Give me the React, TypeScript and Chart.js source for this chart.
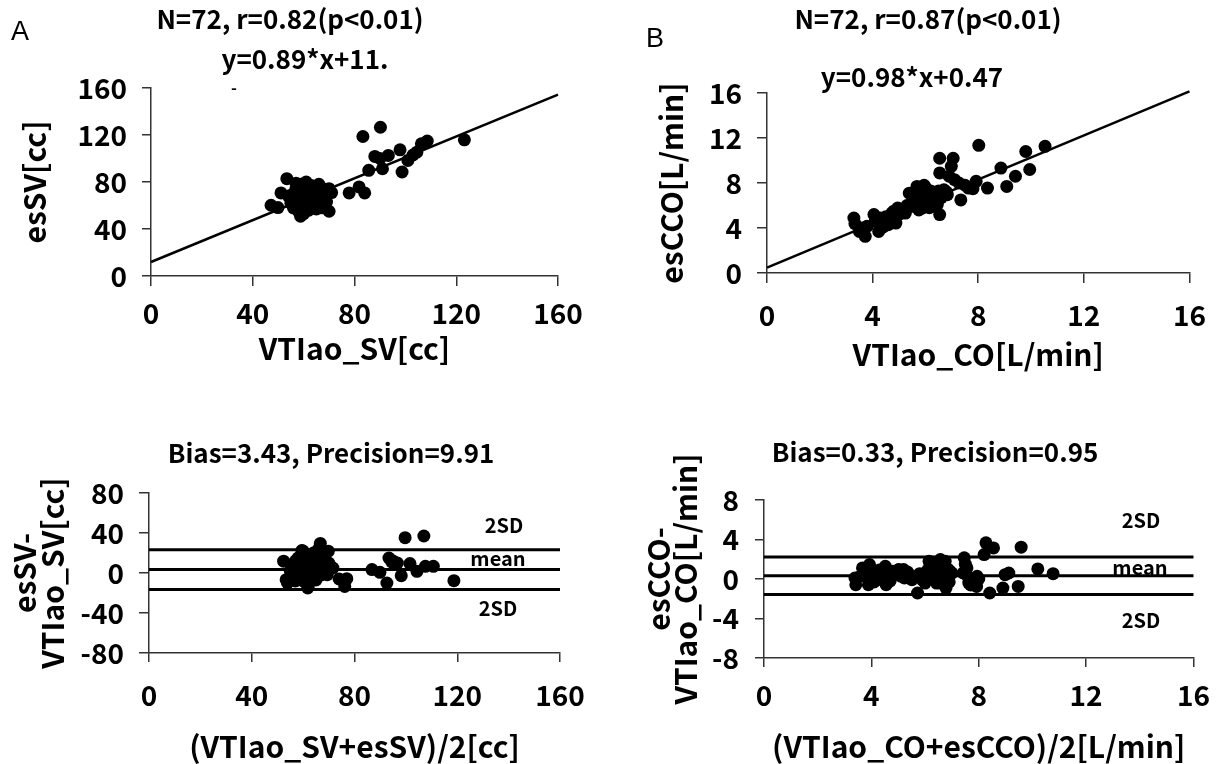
import React, { useEffect, useRef } from "react";
import { Chart, registerables } from "chart.js";

Chart.register(...registerables);

const FONT = '"Noto Sans CJK JP", "Liberation Sans", sans-serif';

// ---------- Panel A: esSV vs VTIao_SV ----------
const aX = [53.4, 51.1, 47.2, 49.9, 58.8, 70, 70, 71, 77.9, 81.8, 84, 83.3, 90.2, 85.6, 88, 91, 93.3, 97.9, 98.7, 101, 104.5, 106.3, 108.6, 123.2, 103, 90,
  55, 55, 56, 56, 57, 57, 58, 58, 58, 59, 59, 60, 60, 60, 60, 60, 61, 61, 61, 62, 62, 62, 62, 63, 63, 63, 64, 64, 64, 65, 65, 65, 66, 66, 67, 67, 68, 68, 69, 66, 54, 57, 63, 59, 61, 64];
const aY = [82.8, 70.7, 60.2, 58.2, 50.9, 55.1, 74.3, 71, 70.7, 75.8, 70.7, 118.7, 126.6, 89.9, 101.8, 91.3, 102.6, 107.4, 88.5, 98.4, 105.4, 112.5, 114.8, 115.9, 103, 100,
  62, 66, 58, 70, 64, 74, 55, 60, 68, 72, 78, 53, 58, 63, 66, 70, 61, 75, 80, 56, 65, 68, 72, 59, 63, 77, 66, 70, 60, 57, 64, 73, 68, 62, 75, 58, 66, 70, 63, 78, 68, 79, 68, 66, 69, 74];
const aSlope = 0.89;
const aIntercept = 11.9;
const aXTicks = [0, 40, 80, 120, 160];
const aYTicks = [0, 40, 80, 120, 160];

// ---------- Panel B: esCCO vs VTIao_CO ----------
const bX = [3.29, 3.33, 3.5, 3.72, 3.79, 4.05, 4.23, 4.37, 4.59, 4.73, 4.88, 4.95, 5.24, 5.39, 5.53, 5.68, 5.82, 5.89, 6.04, 6.14, 6.25, 6.54, 6.54, 6.54, 6.83, 6.98, 7.05, 6.9, 7.27, 7.34, 7.63, 7.92, 8.02, 7.8, 8.35, 8.86, 9.08, 9.41, 9.8, 9.95, 10.53,
  4.1, 4.3, 4.5, 4.6, 4.8, 5.0, 5.1, 5.3, 5.5, 5.6, 5.7, 5.8, 5.9, 6.0, 6.0, 6.1, 6.2, 6.3, 6.4, 6.5, 6.6, 6.7, 6.8, 5.75, 6.15, 4.4, 3.6, 6.45, 7.1, 7.5, 5.95];
const bY = [4.89, 4.39, 3.7, 3.26, 4.15, 5.19, 3.7, 4.59, 4.3, 5.33, 4.44, 5.78, 5.33, 7.1, 5.93, 7.7, 6.5, 5.78, 7.1, 6.2, 6.8, 5.19, 10.2, 8.9, 6.96, 9.48, 10.2, 8.6, 8.0, 6.5, 7.55, 8.15, 11.35, 7.5, 7.55, 9.33, 7.7, 8.6, 10.8, 9.2, 11.26,
  4.6, 4.9, 5.0, 4.7, 5.5, 5.2, 5.6, 6.0, 6.3, 6.8, 7.3, 7.0, 6.2, 6.6, 7.6, 6.9, 7.3, 6.4, 7.0, 7.3, 6.7, 7.4, 7.2, 5.6, 5.8, 4.1, 4.0, 6.1, 8.3, 7.8, 7.8];
const bSlope = 0.98;
const bIntercept = 0.47;
const bXTicks = [0, 4, 8, 12, 16];
const bYTicks = [0, 4, 8, 12, 16];

// ---------- Panel C: Bland-Altman SV ----------
const cX = [52.4, 53.4, 53.9, 59.5, 61.8, 66.7, 69.8, 71.6, 69.4, 74, 76.2, 77, 86.8, 89.9, 92.6, 93.4, 96.7, 98.2, 99.7, 101.6, 104.3, 107, 107.6, 110.7, 118.7, 95, 94.5,
  55, 55, 56, 56, 57, 57, 58, 58, 58, 59, 59, 60, 60, 60, 61, 61, 61, 62, 62, 62, 63, 63, 63, 64, 64, 64, 65, 65, 65, 66, 66, 67, 67, 68, 68, 69, 70, 62, 60, 57, 66, 64, 59, 61, 68];
const cY = [11.8, -6.7, -10, 22.5, -15, 29.6, 21.8, 5, -1.7, -6, -13.4, -5.7, 3.4, 0.7, -10, 15, 10, -2.7, 35.3, 9.4, 1.7, 37, 6.7, 6.7, -7.7, 12, 11,
  2, -4, 8, -2, 5, 12, -6, 0, 15, 3, 9, -8, 1, 18, 6, -3, 12, -10, 2, 8, 14, -5, 4, 10, -1, 20, 6, -7, 15, 2, 10, 18, -2, 8, 13, 4, 10, -13, 22, -8, 24, 16, -2, 19, 0];
const cBias = 3.43;
const cUpper = 23.25;
const cLower = -16.39;
const cXTicks = [0, 40, 80, 120, 160];
const cYTicks = [-80, -40, 0, 40, 80];

// ---------- Panel D: Bland-Altman CO ----------
const dX = [3.39, 3.42, 3.67, 3.93, 3.89, 4.17, 4.38, 4.52, 4.55, 4.8, 5.02, 5.2, 5.23, 5.51, 5.72, 5.8, 6.0, 6.15, 6.29, 6.43, 6.57, 6.64, 6.78, 6.93, 7.46, 7.56, 7.42, 7.63, 7.94, 7.92, 8.2, 8.27, 8.55, 8.41, 8.9, 8.98, 9.12, 9.47, 9.58, 10.2, 10.77,
  3.6, 3.8, 4.0, 4.1, 4.3, 4.6, 4.7, 4.9, 5.1, 5.35, 5.6, 5.9, 6.1, 6.2, 6.35, 6.45, 6.5, 6.6, 6.7, 6.85, 6.9, 7.0, 6.55, 7.5, 7.6, 7.7, 8.0, 6.3, 6.75, 5.0, 4.45];
const dY = [0.1, -0.58, 1.12, 1.46, -0.58, 0.44, -0.07, 1.29, -0.58, 0.78, 0.95, 0.95, 0.1, -0.07, -1.42, 0.54, -0.41, 1.8, 1.12, -0.41, 1.97, 0.61, -0.92, 0.78, 2.14, 1.12, 0.61, -0.41, 0.27, -0.75, 2.47, 3.66, 3.15, -1.42, -0.92, 0.44, 0.61, -0.75, 3.22, 1.02, 0.54,
  0.3, 0.8, 0.2, -0.3, 0.9, 0.4, -0.2, 0.6, 0.3, 0.7, 0.2, -0.1, 0.9, 0.3, 1.5, 0.8, 0.1, 1.3, 0.4, 1.0, -0.3, 0.6, -0.4, 1.5, 0.2, -0.6, 0.0, 1.7, 1.8, 0.9, 1.0];
const dBias = 0.33;
const dUpper = 2.23;
const dLower = -1.57;
const dXTicks = [0, 4, 8, 12, 16];
const dYTicks = [-8, -4, 0, 4, 8];

// ---------- texts ----------
const titleA = "N=72, r=0.82(p<0.01)";
const eqA = "y=0.89*x+11.";
const titleB = "N=72, r=0.87(p<0.01)";
const eqB = "y=0.98*x+0.47";
const titleC = "Bias=3.43, Precision=9.91";
const titleD = "Bias=0.33, Precision=0.95";

type TextItem = { text: string; x: number; y: number; font: string; align?: CanvasTextAlign };

const panelTextPlugin = {
  id: "panelText",
  afterDraw(chart: any, _args: any, opts: any) {
    const ctx = chart.ctx as CanvasRenderingContext2D;
    const items: TextItem[] = opts.items || [];
    items.forEach((it) => {
      ctx.save();
      ctx.font = it.font;
      ctx.fillStyle = "#000";
      ctx.textAlign = it.align || "center";
      ctx.textBaseline = "middle";
      ctx.fillText(it.text, it.x, it.y);
      ctx.restore();
    });
  },
};

const bold = (s: number) => `bold ${s}px ${FONT}`;

type PanelCfg = {
  left: number; top: number; width: number; height: number;
  pad: { top: number; right: number };
  yWidth: number; xHeight: number;
  xMin: number; xMax: number; xStep: number;
  yMin: number; yMax: number; yStep: number;
  xTickLen: number; xTickPad: number;
  yTickLen: number; yTickPad: number;
  xTitle: string; xTitlePad: number;
  yTitle: string | string[]; yTitlePad: number; yTitleLH: number;
  points: { x: number; y: number }[];
  lines: { x: number; y: number }[][];
  lineWidth: number;
  texts: TextItem[];
};

function zip(xs: number[], ys: number[]) {
  return xs.map((x, i) => ({ x, y: ys[i] }));
}

function fit(slope: number, icpt: number, xs: number[]) {
  return [xs[0], xs[xs.length - 1]].map((x) => ({ x, y: slope * x + icpt }));
}

function hline(v: number, xs: number[]) {
  return [xs[0], xs[xs.length - 1]].map((x) => ({ x, y: v }));
}

const AXIS = "#333";
const TICK_SIZE = 28;
const TITLE_SIZE = 30;

function Panel({ cfg }: { cfg: PanelCfg }) {
  const ref = useRef<HTMLCanvasElement>(null);
  useEffect(() => {
    if (!ref.current) return;
    const tickFont = { family: FONT, size: TICK_SIZE, weight: "bold" as const, lineHeight: 1 };
    const datasets: any[] = [
      {
        data: cfg.points,
        backgroundColor: "#000",
        borderWidth: 0,
        pointRadius: 6.5,
        pointHoverRadius: 6.5,
        clip: false,
      },
      ...cfg.lines.map((l) => ({
        data: l,
        showLine: true,
        borderColor: "#000",
        borderWidth: cfg.lineWidth,
        pointRadius: 0,
        clip: false,
      })),
    ];
    const chart = new Chart(ref.current, {
      type: "scatter",
      data: { datasets },
      plugins: [panelTextPlugin as any],
      options: {
        responsive: false,
        animation: false,
        devicePixelRatio: 1,
        layout: { padding: { left: 0, top: cfg.pad.top, right: cfg.pad.right, bottom: 0 } },
        plugins: {
          legend: { display: false },
          tooltip: { enabled: false },
          panelText: { items: cfg.texts },
        } as any,
        scales: {
          x: {
            type: "linear",
            min: cfg.xMin,
            max: cfg.xMax,
            ticks: { stepSize: cfg.xStep, font: tickFont, color: "#000", padding: cfg.xTickPad, maxRotation: 0, autoSkip: false },
            grid: { drawOnChartArea: false, drawTicks: true, tickLength: cfg.xTickLen, color: AXIS, lineWidth: 1.5 },
            border: { display: true, color: AXIS, width: 1.5 },
            title: {
              display: true,
              text: cfg.xTitle,
              color: "#000",
              font: { family: FONT, size: TITLE_SIZE, weight: "bold", lineHeight: 1 },
              padding: { top: 0, bottom: cfg.xTitlePad },
            },
            afterFit: (s: any) => { s.height = cfg.xHeight; },
          },
          y: {
            type: "linear",
            min: cfg.yMin,
            max: cfg.yMax,
            ticks: { stepSize: cfg.yStep, font: tickFont, color: "#000", padding: cfg.yTickPad, autoSkip: false },
            grid: { drawOnChartArea: false, drawTicks: true, tickLength: cfg.yTickLen, color: AXIS, lineWidth: 1.5 },
            border: { display: true, color: AXIS, width: 1.5 },
            title: {
              display: true,
              text: cfg.yTitle,
              color: "#000",
              font: { family: FONT, size: TITLE_SIZE, weight: "bold", lineHeight: cfg.yTitleLH },
              padding: { top: cfg.yTitlePad, bottom: 0 },
            },
            afterFit: (s: any) => { s.width = cfg.yWidth; },
          },
        },
      } as any,
    });
    return () => chart.destroy();
  }, [cfg]);
  return (
    <canvas
      ref={ref}
      width={cfg.width}
      height={cfg.height}
      style={{ position: "absolute", left: cfg.left, top: cfg.top, width: cfg.width, height: cfg.height }}
    />
  );
}

const panels: PanelCfg[] = [
  {
    left: 0, top: 0, width: 612, height: 382,
    pad: { top: 88, right: 54 }, yWidth: 151, xHeight: 106,
    xMin: 0, xMax: 160, xStep: 40, yMin: 0, yMax: 160, yStep: 40,
    xTickLen: 10, xTickPad: 13, yTickLen: 9, yTickPad: 15,
    xTitle: "VTIao_SV[cc]", xTitlePad: 18,
    yTitle: "esSV[cc]", yTitlePad: 20, yTitleLH: 1,
    points: zip(aX, aY),
    lines: [fit(aSlope, aIntercept, aXTicks)],
    lineWidth: 2.5,
    texts: [
      { text: "A", x: 20, y: 33, font: `27px "Liberation Sans", sans-serif` },
      { text: titleA, x: 290, y: 19, font: bold(26) },
      { text: eqA, x: 305, y: 59, font: bold(26) },
      { text: "-", x: 234, y: 88, font: bold(16) },
    ],
  },
  {
    left: 612, top: 0, width: 612, height: 382,
    pad: { top: 93, right: 25.5 }, yWidth: 155, xHeight: 109,
    xMin: 0, xMax: 16, xStep: 4, yMin: 0, yMax: 16, yStep: 4,
    xTickLen: 10, xTickPad: 18, yTickLen: 10, yTickPad: 15,
    xTitle: "VTIao_CO[L/min]", xTitlePad: 12,
    yTitle: "esCCO[L/min]", yTitlePad: 45, yTitleLH: 1,
    points: zip(bX, bY),
    lines: [fit(bSlope, bIntercept, bXTicks)],
    lineWidth: 2.5,
    texts: [
      { text: "B", x: 43, y: 40, font: `27px "Liberation Sans", sans-serif` },
      { text: titleB, x: 316, y: 19, font: bold(26) },
      { text: eqB, x: 300, y: 77, font: bold(26) },
    ],
  },
  {
    left: 0, top: 382, width: 612, height: 382,
    pad: { top: 111, right: 52 }, yWidth: 149, xHeight: 111,
    xMin: 0, xMax: 160, xStep: 40, yMin: -80, yMax: 80, yStep: 40,
    xTickLen: 9, xTickPad: 19, yTickLen: 10, yTickPad: 15,
    xTitle: "(VTIao_SV+esSV)/2[cc]", xTitlePad: 2,
    yTitle: ["esSV-", "VTIao_SV[cc]"], yTitlePad: 11, yTitleLH: 0.93,
    points: zip(cX, cY),
    lines: [hline(cUpper, cXTicks), hline(cBias, cXTicks), hline(cLower, cXTicks)],
    lineWidth: 3,
    texts: [
      { text: titleC, x: 331, y: 71, font: bold(26) },
      { text: "2SD", x: 504, y: 143, font: bold(20) },
      { text: "mean", x: 498, y: 176, font: bold(20) },
      { text: "2SD", x: 498, y: 226, font: bold(20) },
    ],
  },
  {
    left: 612, top: 382, width: 612, height: 382,
    pad: { top: 118, right: 18 }, yWidth: 152, xHeight: 106,
    xMin: 0, xMax: 16, xStep: 4, yMin: -8, yMax: 8, yStep: 4,
    xTickLen: 9, xTickPad: 14, yTickLen: 9, yTickPad: 16,
    xTitle: "(VTIao_CO+esCCO)/2[L/min]", xTitlePad: 2,
    yTitle: ["esCCO-", "VTIao_CO[L/min]"], yTitlePad: 33, yTitleLH: 0.9,
    points: zip(dX, dY),
    lines: [hline(dUpper, dXTicks), hline(dBias, dXTicks), hline(dLower, dXTicks)],
    lineWidth: 3,
    texts: [
      { text: titleD, x: 323, y: 70, font: bold(26) },
      { text: "2SD", x: 529, y: 138, font: bold(20) },
      { text: "mean", x: 528, y: 185, font: bold(20) },
      { text: "2SD", x: 529, y: 238, font: bold(20) },
    ],
  },
];

export default function App() {
  return (
    <div style={{ position: "absolute", left: 0, top: 0, width: 1224, height: 764, background: "#fff", overflow: "hidden" }}>
      {panels.map((p, i) => (
        <Panel key={i} cfg={p} />
      ))}
    </div>
  );
}
